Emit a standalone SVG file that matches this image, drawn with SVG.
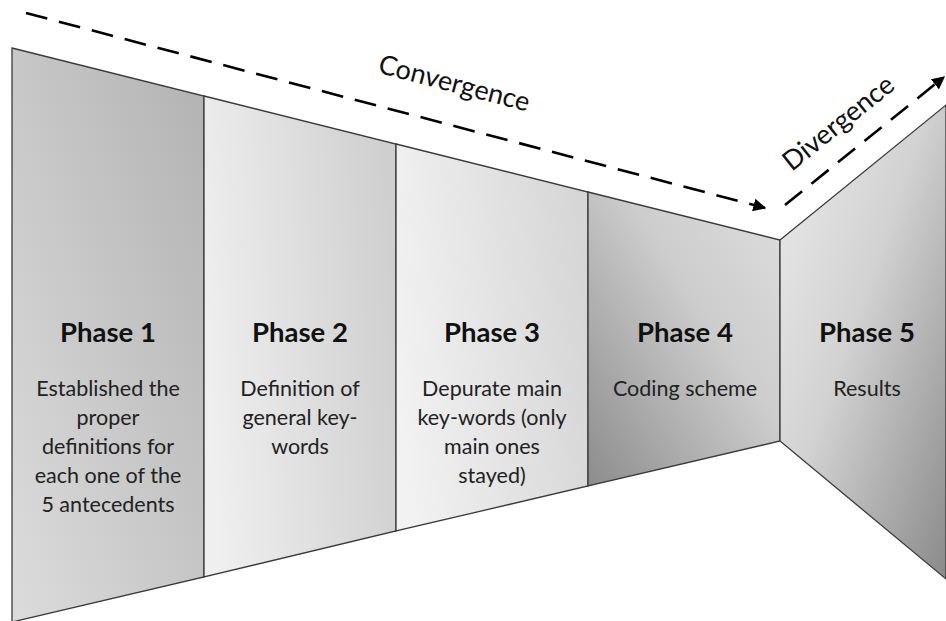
<svg xmlns="http://www.w3.org/2000/svg" width="946" height="621" viewBox="0 0 946 621">
<style>
.wall{stroke:#3a3a3a;stroke-width:1.3;stroke-linejoin:miter}
.title{font-family:Lato,"Open Sans",sans-serif;font-weight:bold;font-size:27.5px;fill:#111;text-anchor:middle}
.desc{font-family:Lato,"Open Sans",sans-serif;font-size:21.5px;fill:#222;text-anchor:middle}
.flow{fill:none;stroke:#000;stroke-width:2.6;stroke-dasharray:22 12}
.lbl{font-family:Lato,"Open Sans",sans-serif;font-size:27px;fill:#111;text-anchor:middle}
</style>
<defs>
<linearGradient id="g1" x1="0" y1="1" x2="1" y2="0"><stop offset="0" stop-color="#dcdcdc"/><stop offset="1" stop-color="#b2b2b2"/></linearGradient>
<linearGradient id="g2" x1="0" y1="0.6" x2="1" y2="0.4"><stop offset="0" stop-color="#efefef"/><stop offset="1" stop-color="#cfcfcf"/></linearGradient>
<linearGradient id="g3" x1="0" y1="0.6" x2="1" y2="0.4"><stop offset="0" stop-color="#f2f2f2"/><stop offset="1" stop-color="#d6d6d6"/></linearGradient>
<linearGradient id="g4" x1="0" y1="1" x2="1" y2="0"><stop offset="0" stop-color="#8c8c8c"/><stop offset="0.6" stop-color="#cdcdcd"/><stop offset="1" stop-color="#dedede"/></linearGradient>
<linearGradient id="g5" x1="0" y1="0" x2="1" y2="1"><stop offset="0" stop-color="#ececec"/><stop offset="0.45" stop-color="#d2d2d2"/><stop offset="1" stop-color="#8a8a8a"/></linearGradient>
<marker id="ah" viewBox="0 0 10 10" refX="9" refY="5" markerWidth="5" markerHeight="5" orient="auto" markerUnits="strokeWidth"><path d="M0,0 L10,5 L0,10 z" fill="#000"/></marker>
</defs>
<rect width="946" height="621" fill="#fff"/>
<g id="phase1">
<polygon class="wall" fill="url(#g1)" points="12,48 204,96 204,577 12,622"/>
<text class="title" x="108" y="342">Phase 1</text>
<text class="desc" x="108" y="396">Established the</text>
<text class="desc" x="108" y="425">proper</text>
<text class="desc" x="108" y="454">definitions for</text>
<text class="desc" x="108" y="483">each one of the</text>
<text class="desc" x="108" y="512">5 antecedents</text>
</g>
<g id="phase2">
<polygon class="wall" fill="url(#g2)" points="204,96 396,144 396,531 204,577"/>
<text class="title" x="300" y="342">Phase 2</text>
<text class="desc" x="300" y="396">Definition of</text>
<text class="desc" x="300" y="425">general key-</text>
<text class="desc" x="300" y="454">words</text>
</g>
<g id="phase3">
<polygon class="wall" fill="url(#g3)" points="396,144 588,192 588,486 396,531"/>
<text class="title" x="492" y="342">Phase 3</text>
<text class="desc" x="492" y="396">Depurate main</text>
<text class="desc" x="492" y="425">key-words (only</text>
<text class="desc" x="492" y="454">main ones</text>
<text class="desc" x="492" y="483">stayed)</text>
</g>
<g id="phase4">
<polygon class="wall" fill="url(#g4)" points="588,192 780,240 780,441 588,486"/>
<text class="title" x="685" y="342">Phase 4</text>
<text class="desc" x="685" y="396">Coding scheme</text>
</g>
<g id="phase5">
<polygon class="wall" fill="url(#g5)" points="780,240 946,105 946,579 780,441"/>
<text class="title" x="867" y="342">Phase 5</text>
<text class="desc" x="867" y="396">Results</text>
</g>
<g id="connectors">
<line class="flow" x1="26" y1="13" x2="765" y2="208" marker-end="url(#ah)"/>
<line class="flow" x1="785" y1="205" x2="944" y2="77" marker-end="url(#ah)"/>
</g>
<g id="labels">
<text class="lbl" transform="translate(452,92) rotate(14.6)">Convergence</text>
<text class="lbl" transform="translate(844,130) rotate(-38.7)">Divergence</text>
</g>
</svg>
